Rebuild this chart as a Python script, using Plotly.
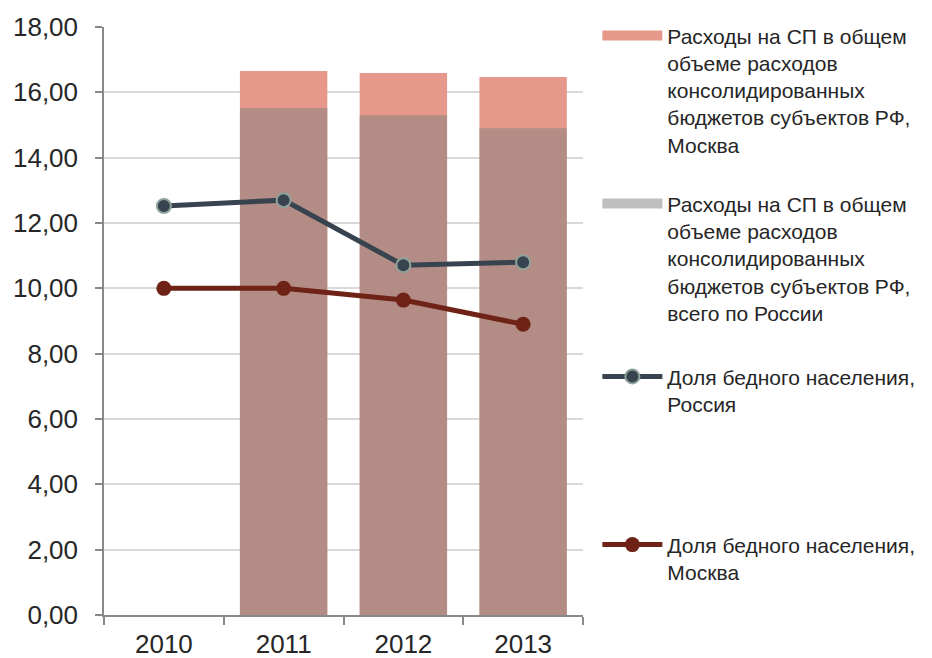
import plotly.graph_objects as go

years = ["2010", "2011", "2012", "2013"]
sp_moscow = [None, 16.65, 16.59, 16.47]
sp_russia = [None, 15.52, 15.30, 14.90]
poor_russia = [12.52, 12.70, 10.71, 10.80]
poor_moscow = [10.00, 10.00, 9.64, 8.90]

name_sp_moscow = "Расходы на СП в общем<br>объеме расходов<br>консолидированных<br>бюджетов субъектов РФ,<br>Москва"
name_sp_russia = "Расходы на СП в общем<br>объеме расходов<br>консолидированных<br>бюджетов субъектов РФ,<br>всего по России"
name_poor_russia = "Доля бедного населения,<br>Россия"
name_poor_moscow = "Доля бедного населения,<br>Москва"

pink = "#E6998A"
grey_a = "rgba(128,128,128,0.5)"
dark = "#37434F"
red = "#6E2316"

fig = go.Figure()
fig.add_trace(go.Bar(x=years, y=sp_moscow, marker=dict(color=pink, line=dict(width=0)),
                     width=0.73, showlegend=False, name=name_sp_moscow))
fig.add_trace(go.Bar(x=years, y=sp_russia, marker=dict(color=grey_a, line=dict(width=0)),
                     width=0.73, showlegend=False, name=name_sp_russia))
# legend proxies for bars (wide swatches)
fig.add_trace(go.Scatter(x=[None], y=[None], mode="lines", line=dict(color=pink, width=10),
                         name=name_sp_moscow, legend="legend"))
fig.add_trace(go.Scatter(x=[None], y=[None], mode="lines", line=dict(color="#BFBFBF", width=10),
                         name=name_sp_russia, legend="legend2"))
fig.add_trace(go.Scatter(x=years, y=poor_russia, mode="lines+markers", name=name_poor_russia,
                         line=dict(color=dark, width=5),
                         marker=dict(size=14, color=dark, line=dict(color="#8FA39A", width=2)),
                         legend="legend3"))
fig.add_trace(go.Scatter(x=years, y=poor_moscow, mode="lines+markers", name=name_poor_moscow,
                         line=dict(color=red, width=5),
                         marker=dict(size=15, color=red, line=dict(color=red, width=0)),
                         legend="legend4"))

leg_common = dict(x=1.03, xanchor="left", yanchor="top", valign="top",
                  font=dict(family="Liberation Sans, Arial, sans-serif", size=21, color="#262626"),
                  bgcolor="rgba(0,0,0,0)", itemwidth=60)

fig.update_layout(
    width=924, height=650,
    margin=dict(l=96, r=349, t=19, b=43, autoexpand=False),
    paper_bgcolor="white", plot_bgcolor="white",
    barmode="overlay",
    separators=", ",
    font=dict(family="Liberation Sans, Arial, sans-serif", color="#262626"),
    legend=dict(y=1.02, **leg_common),
    legend2=dict(y=0.734, **leg_common),
    legend3=dict(y=0.44, **leg_common),
    legend4=dict(y=0.154, **leg_common),
    xaxis=dict(type="category", showgrid=False, showline=True, linecolor="#898989", linewidth=1.5,
               ticks="outside", tickson="boundaries", ticklen=8, tickcolor="#898989", tickwidth=1.5,
               ticklabelstandoff=5, automargin=False,
               tickfont=dict(size=26, color="#262626"), range=[-0.5, 3.5]),
    yaxis=dict(range=[0, 18], tickvals=[0, 2, 4, 6, 8, 10, 12, 14, 16, 18], tickformat=".2f",
               showgrid=True, gridcolor="#D9D9D9", gridwidth=1.5, zeroline=False,
               showline=True, linecolor="#898989", linewidth=1.5,
               ticks="outside", ticklen=7, tickcolor="#898989", tickwidth=1.5,
               ticklabelstandoff=12, automargin=False,
               tickfont=dict(size=26, color="#262626")),
)

fig.write_html("out.html")
